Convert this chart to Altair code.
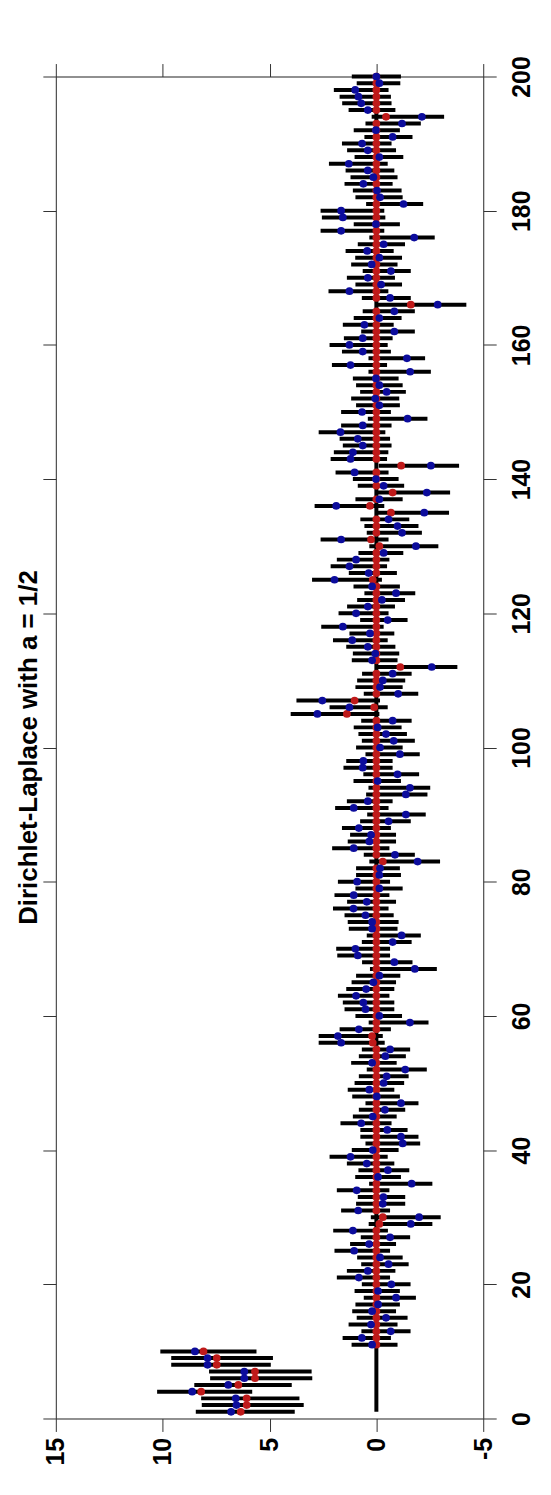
import altair as alt
import pandas as pd

# ---------------- data ----------------
index = list(range(1, 201))

blue = [
    6.80, 6.55, 6.58, 8.62, 6.93, 6.18, 6.18, 7.90, 7.90, 8.49,
    0.20, 0.68, -0.67, 0.25, -0.45, 0.20, -0.08, -0.92, -0.08, -0.70,
    0.82, 0.40, -0.57, -0.17, 1.04, 0.34, -0.64, 1.10, -1.61, -2.00,
    0.85, -0.30, -0.33, 0.92, -1.65, -0.08, -0.54, 0.45, 1.21, 0.17,
    -1.23, -1.15, -0.51, 0.71, 0.17, -0.40, -1.15, -0.02, 0.33, -0.34,
    -0.48, -1.35, 0.20, -0.42, -0.64, 1.65, 1.80, 0.82, -1.57, -0.14,
    0.51, 0.61, 0.95, 0.48, 0.14, -0.14, -1.80, -0.84, 0.87, 0.98,
    -0.76, -1.18, 0.20, 0.20, 0.51, 1.07, 0.45, 1.06, -0.14, 0.90,
    -0.14, -0.17, -1.93, -0.87, 1.06, 0.33, 0.25, 0.82, -0.57, -1.38,
    1.06, 0.40, -1.38, -1.57, -0.06, -0.99, 0.64, 0.61, -1.10, -0.17,
    -0.81, -0.45, -0.06, -0.76, 2.76, 1.26, 2.53, -1.02, -0.17, -0.30,
    -0.76, -2.59, 0.20, 0.05, 0.40, 1.13, 0.30, 1.57, -0.53, 0.95,
    0.40, -0.26, -0.92, 0.20, 1.96, 0.36, 1.26, 0.95, -0.34, -1.85,
    1.65, -1.20, -0.99, -0.57, -2.24, 1.88, -0.14, -2.36, -0.34, 0.02,
    1.02, -2.55, 1.21, 1.10, 0.64, 0.87, 1.68, 0.64, -1.46, 0.67,
    -0.14, 0.05, -0.48, -0.14, 0.02, -1.58, 1.21, -1.43, 0.64, 1.26,
    0.64, -0.84, 0.56, -0.14, -0.84, -2.87, -0.64, 1.26, -0.22, 0.40,
    -0.68, 0.22, -0.14, 0.43, -0.34, -1.77, 1.65, 0.02, 1.57, 1.65,
    -1.27, -0.17, -0.03, 0.61, 0.14, 0.40, 1.29, -0.14, 0.40, 0.67,
    -0.76, 0.02, -1.20, -2.13, 0.40, 0.71, 0.84, 0.99, -0.14, 0.00,
]

red = [
    6.35, 6.07, 6.07, 8.20, 6.46, 5.68, 5.68, 7.47, 7.47, 8.09,
    0, 0, 0, 0, 0, 0, 0, 0, 0, 0,
    0, 0, 0, 0, 0, 0, 0, 0, -0.14, -0.30,
    0, 0, 0, 0, 0, 0, 0, 0, 0, 0,
    0, 0, 0, 0, 0, 0, 0, 0, 0, 0,
    0, 0, 0, 0, 0, 0.17, 0.20, 0, 0, 0,
    0, 0, 0, 0, 0, 0, 0, 0, 0, 0,
    0, 0, 0, 0, 0, 0, 0, 0, 0, 0,
    0, 0, -0.30, 0, 0, 0, 0, 0, 0, 0,
    0, 0, 0, 0, 0, 0, 0, 0, 0, 0,
    0, 0, 0, 0, 1.38, 0.10, 1.02, 0, 0, 0,
    0, -1.12, 0, 0, 0, 0, 0, 0, 0, 0,
    0, 0, 0, 0, 0.17, 0, 0, 0, 0, -0.14,
    0.25, 0, 0, 0, -0.68, 0.30, 0, -0.76, 0, 0,
    0, -1.16, 0, 0, 0, 0, 0, 0, 0, 0,
    0, 0, 0, 0, 0, 0, 0, 0, 0, 0,
    0, 0, 0, 0, 0, -1.61, 0, 0, 0, 0,
    0, 0, 0, 0, 0, 0, 0, 0, 0, 0,
    0, 0, 0, 0, 0, 0, 0, 0, 0, 0,
    0, 0, 0, -0.45, 0, 0, 0, 0, 0, 0,
]

lower = [
    3.82, 3.40, 3.60, 5.81, 3.96, 3.00, 3.03, 4.94, 4.84, 5.61,
    -0.99, -0.68, -1.60, -0.99, -1.46, -0.92, -1.10, -1.85, -1.10, -1.60,
    -0.64, -0.89, -1.51, -1.23, -0.64, -0.92, -1.58, -0.54, -2.62, -3.01,
    -0.64, -1.35, -1.35, -0.61, -2.62, -1.15, -1.54, -0.84, -0.53, -1.04,
    -2.05, -1.97, -1.46, -0.71, -0.95, -1.35, -1.97, -1.10, -0.84, -1.30,
    -1.51, -2.36, -0.95, -1.38, -1.58, -0.39, -0.30, -0.68, -2.44, -1.20,
    -0.84, -0.84, -0.61, -0.84, -0.92, -1.12, -2.83, -1.69, -0.64, -0.64,
    -1.65, -2.08, -0.99, -1.04, -0.81, -0.57, -0.92, -0.61, -1.23, -0.64,
    -1.15, -1.10, -2.98, -1.80, -0.61, -0.92, -0.92, -0.68, -1.61, -2.31,
    -0.57, -0.76, -2.39, -2.52, -1.15, -2.00, -0.76, -0.76, -2.03, -1.23,
    -1.80, -1.43, -1.18, -1.65, -0.14, -0.53, -0.17, -1.96, -1.23, -1.35,
    -1.65, -3.79, -0.99, -1.07, -0.89, -0.53, -0.84, -0.34, -1.46, -0.57,
    -0.87, -1.34, -1.82, -1.10, -0.26, -0.96, -0.50, -0.61, -1.26, -2.90,
    -0.57, -2.13, -1.97, -1.54, -3.40, -0.37, -1.23, -3.45, -1.30, -1.04,
    -0.57, -3.87, -0.50, -0.56, -0.71, -0.64, -0.42, -0.71, -2.39, -0.68,
    -1.10, -1.07, -1.38, -1.23, -1.04, -2.55, -0.50, -2.28, -0.68, -0.53,
    -0.76, -1.80, -0.81, -1.18, -1.80, -4.21, -1.61, -0.56, -1.20, -0.87,
    -1.61, -0.99, -1.20, -0.81, -1.34, -2.73, -0.37, -1.10, -0.42, -0.37,
    -2.19, -1.23, -1.18, -0.76, -0.99, -0.84, -0.53, -1.26, -0.92, -0.71,
    -1.69, -1.10, -2.08, -3.17, -0.89, -0.71, -0.68, -0.57, -1.12, -1.15,
]

upper = [
    8.45, 8.17, 8.20, 10.26, 8.52, 7.78, 7.83, 9.60, 9.60, 10.11,
    1.16, 1.58, 0.70, 1.30, 0.92, 1.13, 0.98, 0.59, 1.02, 0.68,
    1.85, 1.38, 0.71, 0.90, 1.96, 1.23, 0.73, 2.02, 0.36, 0.26,
    1.65, 0.95, 0.87, 1.85, 0.34, 0.99, 0.84, 1.38, 2.19, 1.15,
    0.51, 0.75, 0.75, 1.68, 1.10, 0.82, 0.51, 1.13, 1.34, 1.02,
    0.82, 0.45, 1.18, 0.82, 0.68, 2.70, 2.70, 1.72, 0.36, 0.98,
    1.49, 1.57, 1.80, 1.41, 1.16, 0.95, 0.30, 0.67, 1.83, 1.88,
    0.68, 0.45, 1.29, 1.34, 1.49, 2.03, 1.37, 1.96, 0.98, 1.80,
    0.95, 0.95, 0.33, 0.59, 2.07, 1.34, 1.23, 1.61, 0.76, 0.43,
    1.93, 1.38, 0.48, 0.37, 1.07, 0.61, 1.54, 1.41, 0.51, 0.95,
    0.68, 0.84, 1.06, 0.71, 4.01, 2.19, 3.74, 0.59, 0.98, 0.90,
    0.67, 0.05, 1.15, 1.10, 1.41, 2.03, 1.26, 2.58, 0.76, 1.77,
    1.37, 0.90, 0.56, 1.07, 3.01, 1.29, 2.14, 1.85, 0.84, 0.33,
    2.61, 0.45, 0.56, 0.75, 0.05, 2.89, 0.98, 0.02, 0.87, 1.10,
    1.91, -0.11, 2.14, 1.99, 1.57, 1.72, 2.70, 1.65, 0.40, 1.65,
    0.95, 1.18, 0.76, 0.95, 1.10, 0.37, 2.08, 0.37, 1.61, 2.19,
    1.52, 0.71, 1.57, 1.06, 0.64, 0.06, 0.68, 2.24, 0.98, 1.38,
    0.64, 1.18, 0.99, 1.44, 0.87, 0.33, 2.61, 1.06, 2.55, 2.61,
    0.48, 0.98, 1.10, 1.49, 1.21, 1.44, 2.22, 1.02, 1.37, 1.61,
    0.56, 1.06, 0.51, 0.22, 1.30, 1.60, 1.72, 1.99, 0.92, 1.15,
]

value_ticks = [15, 10, 5, 0, -5]
index_ticks = [0, 20, 40, 60, 80, 100, 120, 140, 160, 180, 200]
zero_line = {"v": [0], "i0": [1], "i1": [200]}
title_text = "Dirichlet-Laplace with a = 1/2"

# ---------------- chart ----------------
df = pd.DataFrame({"i": index, "blue": blue, "red": red, "lo": lower, "hi": upper})
zdf = pd.DataFrame(zero_line)

FONT = "Liberation Sans"
LINE = "#333333"
xscale = alt.Scale(domain=[-5, 15], reverse=True, nice=False, zero=False)
yscale = alt.Scale(domain=[0, 200], nice=False, zero=False)

ax_bottom = alt.Axis(orient="bottom", values=value_ticks, tickSize=13, tickWidth=1,
                     tickColor=LINE, domainColor=LINE, domainWidth=1, grid=False,
                     labelAngle=270, labelAlign="right", labelBaseline="middle",
                     labelFontSize=25, labelFontWeight="bold", labelFont=FONT,
                     labelColor="black", labelPadding=6, labelOverlap=False,
                     labelFlush=False, labelExpr="'' + datum.value", title=None)
ax_top = alt.Axis(orient="top", values=value_ticks, tickSize=13, tickWidth=1,
                  tickColor=LINE, domainColor=LINE, domainWidth=1, grid=False,
                  labels=False, title=None)
ax_right = alt.Axis(orient="right", values=index_ticks, tickSize=13, tickWidth=1,
                    tickColor=LINE, domainColor=LINE, domainWidth=1, grid=False,
                    labelAngle=270, labelAlign="center", labelBaseline="top",
                    labelFontSize=25, labelFontWeight="bold", labelFont=FONT,
                    labelColor="black", labelPadding=13, labelOverlap=False,
                    labelFlush=False, title=None)
ax_left = alt.Axis(orient="left", values=index_ticks, tickSize=13, tickWidth=1,
                   tickColor=LINE, domainColor=LINE, domainWidth=1, grid=False,
                   labels=False, title=None)

zero = alt.Chart(zdf).mark_rule(color="black", strokeWidth=4).encode(
    x=alt.X("v:Q", scale=xscale, axis=ax_top),
    y=alt.Y("i0:Q", scale=yscale, axis=ax_left),
    y2="i1:Q",
)

bars = alt.Chart(df).mark_rule(color="black", strokeWidth=4).encode(
    x=alt.X("lo:Q", scale=xscale, axis=ax_bottom),
    x2="hi:Q",
    y=alt.Y("i:Q", scale=yscale, axis=ax_right),
)

red_pts = alt.Chart(df).mark_circle(color="#bf1a1a", opacity=1, size=60).encode(
    x=alt.X("red:Q", scale=xscale, axis=None),
    y=alt.Y("i:Q", scale=yscale, axis=None),
)

blue_pts = alt.Chart(df).mark_circle(color="#0c0c9c", opacity=1, size=60).encode(
    x=alt.X("blue:Q", scale=xscale, axis=None),
    y=alt.Y("i:Q", scale=yscale, axis=None),
)

chart = alt.layer(zero, bars, red_pts, blue_pts).resolve_axis(
    x="independent", y="independent"
).properties(
    width=429,
    height=1347,
    autosize=alt.AutoSizeParams(type="none"),
    padding={"left": 48, "top": 66, "right": 60, "bottom": 70},
    title=alt.TitleParams(title_text, orient="left", anchor="middle", fontSize=26,
                          fontWeight="bold", font=FONT, color="black", offset=0),
).configure_view(strokeWidth=0).configure(background="white")

chart.save("out.html", embed_options={"renderer": "svg", "actions": False})
